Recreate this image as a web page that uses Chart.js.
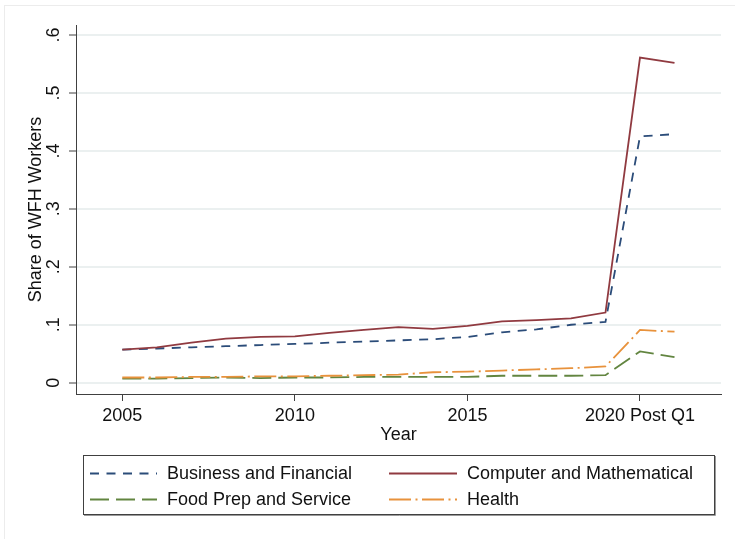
<!DOCTYPE html>
<html>
<head>
<meta charset="utf-8">
<script src="https://cdn.jsdelivr.net/npm/chart.js@4/dist/chart.umd.min.js"></script>
<style>
  html, body { margin: 0; padding: 0; background: #ffffff; }
  canvas { display: block; }
</style>
</head>
<body>
<canvas id="wfh" width="735" height="539"></canvas>
<script>
// Survey years; 2020 is the post-Q1 observation
const years = [2005, 2006, 2007, 2008, 2009, 2010, 2011, 2012, 2013, 2014, 2015, 2016, 2017, 2018, 2019, 2020, 2021];

// Share of workers working from home, by occupation group
const businessFinancial = [0.057, 0.059, 0.061, 0.063, 0.065, 0.067, 0.069, 0.071, 0.073, 0.075, 0.079, 0.087, 0.092, 0.100, 0.105, 0.425, 0.429];
const computerMath      = [0.057, 0.061, 0.069, 0.076, 0.079, 0.080, 0.086, 0.091, 0.096, 0.093, 0.098, 0.106, 0.108, 0.111, 0.121, 0.561, 0.552];
const foodPrep          = [0.007, 0.007, 0.008, 0.009, 0.008, 0.009, 0.009, 0.010, 0.010, 0.010, 0.010, 0.012, 0.012, 0.012, 0.013, 0.054, 0.044];
const health            = [0.009, 0.009, 0.010, 0.010, 0.011, 0.011, 0.012, 0.013, 0.014, 0.018, 0.019, 0.021, 0.023, 0.025, 0.028, 0.091, 0.088];

const seriesNames = ['Business and Financial', 'Computer and Mathematical', 'Food Prep and Service', 'Health'];

// Axis ticks
const xTickValues = [2005, 2010, 2015, 2020];
const xTickLabels = ['2005', '2010', '2015', '2020 Post Q1'];
const yTickValues = [0, 0.1, 0.2, 0.3, 0.4, 0.5, 0.6];
const yTickLabels = ['0', '.1', '.2', '.3', '.4', '.5', '.6'];

const FONT = 'Liberation Sans, Arial, Helvetica, sans-serif';
const AXIS_COLOR = '#404040';

function toPoints(values) {
  return years.map((yr, i) => ({ x: yr, y: values[i] }));
}

const styles = [
  { color: '#2b4c79', dash: [9, 7.5] },
  { color: '#903a40', dash: [] },
  { color: '#628540', dash: [19, 7] },
  { color: '#e8923c', dash: [22, 4.5, 2, 4.5] }
];
const seriesValues = [businessFinancial, computerMath, foodPrep, health];

const datasets = seriesValues.map((vals, i) => ({
  label: seriesNames[i],
  data: toPoints(vals),
  borderColor: styles[i].color,
  backgroundColor: styles[i].color,
  borderDash: styles[i].dash,
  borderWidth: 1.8,
  pointRadius: 0,
  tension: 0,
  fill: false,
  order: 3 - i
}));

// Light outer frame and white page
const framePlugin = {
  id: 'frame',
  beforeDraw(chart) {
    const ctx = chart.ctx;
    ctx.save();
    ctx.fillStyle = '#ffffff';
    ctx.fillRect(0, 0, chart.width, chart.height);
    ctx.strokeStyle = '#ececec';
    ctx.lineWidth = 1;
    ctx.strokeRect(4.5, 5.5, chart.width + 20, chart.height + 20);
    ctx.restore();
  }
};

// Boxed two-column key below the plot
const keyPlugin = {
  id: 'boxedKey',
  afterDraw(chart) {
    const ctx = chart.ctx;
    const box = { left: 83, top: 455, right: 714, bottom: 514 };
    ctx.save();
    // soft shadow
    ctx.strokeStyle = '#9a9a9a';
    ctx.lineWidth = 1;
    ctx.beginPath();
    ctx.moveTo(box.left + 1, box.bottom + 1.5);
    ctx.lineTo(box.right + 1.5, box.bottom + 1.5);
    ctx.lineTo(box.right + 1.5, box.top + 1);
    ctx.stroke();
    ctx.strokeStyle = AXIS_COLOR;
    ctx.strokeRect(box.left + 0.5, box.top + 0.5, box.right - box.left, box.bottom - box.top);

    const cols = [{ x0: 90, x1: 157, tx: 167 }, { x0: 389, x1: 457, tx: 467 }];
    const rows = [473, 499];
    ctx.font = '18px ' + FONT;
    ctx.textBaseline = 'middle';
    ctx.textAlign = 'left';
    chart.data.datasets.forEach((ds, i) => {
      const c = cols[i % 2];
      const y = rows[Math.floor(i / 2)];
      ctx.strokeStyle = ds.borderColor;
      ctx.lineWidth = 2;
      ctx.setLineDash(ds.borderDash || []);
      ctx.beginPath();
      ctx.moveTo(c.x0, y + 0.5);
      ctx.lineTo(c.x1, y + 0.5);
      ctx.stroke();
      ctx.setLineDash([]);
      ctx.fillStyle = '#111111';
      ctx.fillText(ds.label, c.tx, y + 1);
    });
    ctx.restore();
  }
};

new Chart(document.getElementById('wfh'), {
  type: 'line',
  data: { datasets },
  plugins: [framePlugin, keyPlugin],
  options: {
    responsive: false,
    animation: false,
    devicePixelRatio: 1,
    layout: { padding: { top: 25, right: 14, bottom: 0, left: 0 } },
    plugins: {
      legend: { display: false },
      tooltip: { enabled: false }
    },
    scales: {
      x: {
        type: 'linear',
        min: 2003.658,
        max: 2022.347,
        afterBuildTicks: (scale) => { scale.ticks = xTickValues.map(v => ({ value: v })); },
        afterFit: (scale) => { scale.height = 145; },
        ticks: {
          autoSkip: false,
          maxRotation: 0,
          minRotation: 0,
          padding: 4,
          color: '#111111',
          font: { family: FONT, size: 18 },
          callback: (v) => xTickLabels[xTickValues.indexOf(v)]
        },
        grid: {
          display: true,
          drawOnChartArea: false,
          drawTicks: true,
          tickLength: 7,
          tickColor: AXIS_COLOR,
          tickWidth: 1
        },
        border: { display: true, color: AXIS_COLOR, width: 1 },
        title: {
          display: true,
          text: 'Year',
          color: '#111111',
          font: { family: FONT, size: 18 },
          padding: { top: 0, bottom: 93 }
        }
      },
      y: {
        type: 'linear',
        min: -0.0195,
        max: 0.6173,
        afterBuildTicks: (scale) => { scale.ticks = yTickValues.map(v => ({ value: v })); },
        afterFit: (scale) => { scale.width = 76; },
        ticks: {
          autoSkip: false,
          minRotation: 90,
          maxRotation: 90,
          crossAlign: 'center',
          padding: 7.5,
          color: '#111111',
          font: { family: FONT, size: 18 },
          callback: (v) => yTickLabels[yTickValues.findIndex(t => Math.abs(t - v) < 1e-9)]
        },
        grid: {
          display: true,
          drawOnChartArea: true,
          color: '#ebf0f0',
          lineWidth: 2,
          drawTicks: true,
          tickLength: 7,
          tickColor: AXIS_COLOR,
          tickWidth: 1
        },
        border: { display: true, color: AXIS_COLOR, width: 1 },
        title: {
          display: true,
          text: 'Share of WFH Workers',
          color: '#111111',
          font: { family: FONT, size: 18 },
          padding: { top: 25, bottom: 0 }
        }
      }
    }
  }
});
</script>
</body>
</html>
